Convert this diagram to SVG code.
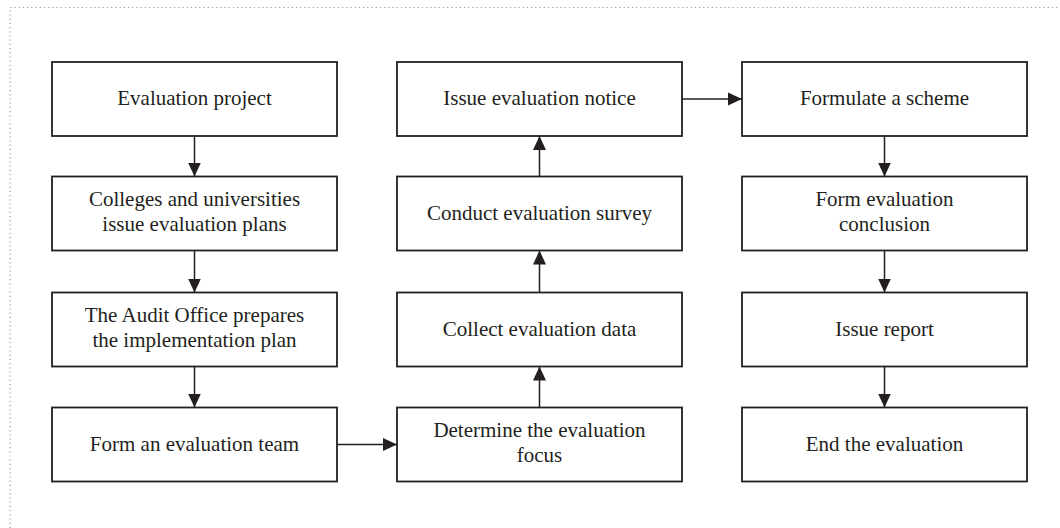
<svg xmlns="http://www.w3.org/2000/svg" width="1060" height="528" viewBox="0 0 1060 528">
<style>
.box{fill:#fff;stroke:#231f20;stroke-width:1.8}
.t{font-family:"Liberation Serif","Times New Roman",serif;font-size:21px;fill:#231f20;text-anchor:middle}
.c{stroke:#231f20;stroke-width:1.5;fill:none;marker-end:url(#ah)}
.frame{stroke:#9a9a9a;stroke-width:1.2;stroke-dasharray:1.2 3;fill:none}
</style>
<defs>
<marker id="ah" viewBox="0 0 14 14" refX="14" refY="7" markerWidth="14" markerHeight="14" markerUnits="userSpaceOnUse" orient="auto">
<path d="M0,0.5 L14,7 L0,13.5 z" fill="#231f20"/>
</marker>
</defs>
<rect width="1060" height="528" fill="#fff"/>
<path class="frame" d="M10,528 L10,7.5 L1060,7.5"/>

<g id="connectors">
<line class="c" x1="194.5" y1="136" x2="194.5" y2="176.5"/>
<line class="c" x1="194.5" y1="250.5" x2="194.5" y2="292.5"/>
<line class="c" x1="194.5" y1="366.5" x2="194.5" y2="407.5"/>
<line class="c" x1="337" y1="444.5" x2="397" y2="444.5"/>
<line class="c" x1="539.5" y1="407.5" x2="539.5" y2="366.5"/>
<line class="c" x1="539.5" y1="292.5" x2="539.5" y2="250.5"/>
<line class="c" x1="539.5" y1="176.5" x2="539.5" y2="136"/>
<line class="c" x1="682" y1="99" x2="742" y2="99"/>
<line class="c" x1="884.5" y1="136" x2="884.5" y2="176.5"/>
<line class="c" x1="884.5" y1="250.5" x2="884.5" y2="292.5"/>
<line class="c" x1="884.5" y1="366.5" x2="884.5" y2="407.5"/>
</g>

<g id="n1"><rect class="box" x="52" y="62" width="285" height="74"/><text class="t" x="194.5" y="105">Evaluation project</text></g>
<g id="n2"><rect class="box" x="52" y="176.5" width="285" height="74"/><text class="t" x="194.5" y="206">Colleges and universities</text><text class="t" x="194.5" y="231">issue evaluation plans</text></g>
<g id="n3"><rect class="box" x="52" y="292.5" width="285" height="74"/><text class="t" x="194.5" y="322">The Audit Office prepares</text><text class="t" x="194.5" y="347">the implementation plan</text></g>
<g id="n4"><rect class="box" x="52" y="407.5" width="285" height="74"/><text class="t" x="194.5" y="450.5">Form an evaluation team</text></g>

<g id="n5"><rect class="box" x="397" y="407.5" width="285" height="74"/><text class="t" x="539.5" y="437">Determine the evaluation</text><text class="t" x="539.5" y="462">focus</text></g>
<g id="n6"><rect class="box" x="397" y="292.5" width="285" height="74"/><text class="t" x="539.5" y="335.5">Collect evaluation data</text></g>
<g id="n7"><rect class="box" x="397" y="176.5" width="285" height="74"/><text class="t" x="539.5" y="219.5">Conduct evaluation survey</text></g>
<g id="n8"><rect class="box" x="397" y="62" width="285" height="74"/><text class="t" x="539.5" y="105">Issue evaluation notice</text></g>

<g id="n9"><rect class="box" x="742" y="62" width="285" height="74"/><text class="t" x="884.5" y="105">Formulate a scheme</text></g>
<g id="n10"><rect class="box" x="742" y="176.5" width="285" height="74"/><text class="t" x="884.5" y="206">Form evaluation</text><text class="t" x="884.5" y="231">conclusion</text></g>
<g id="n11"><rect class="box" x="742" y="292.5" width="285" height="74"/><text class="t" x="884.5" y="335.5">Issue report</text></g>
<g id="n12"><rect class="box" x="742" y="407.5" width="285" height="74"/><text class="t" x="884.5" y="450.5">End the evaluation</text></g>
</svg>
